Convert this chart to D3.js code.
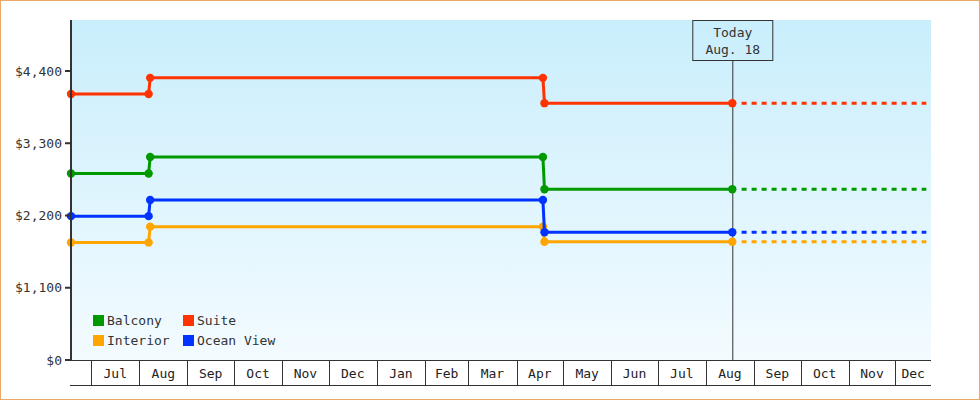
<!DOCTYPE html>
<html><head><meta charset="utf-8">
<script src="https://cdn.jsdelivr.net/npm/d3@7"></script>
<style>
html,body{margin:0;padding:0;background:#fff;}
svg{display:block;font-family:"DejaVu Sans Mono",monospace;}
</style></head>
<body>
<svg id="c" width="980" height="400"></svg>
<script>
// ---- data ----
const seriesNames = ["Balcony", "Suite", "Interior", "Ocean View"];
const seriesColors = ["#009900", "#ff3300", "#ffa500", "#0033ff"];
const pointDates = ["2018-06-18", "2018-08-07", "2018-08-08", "2019-04-18", "2019-04-19", "2019-08-18"];
const balcony  = [2840, 2840, 3090, 3090, 2600, 2600];
const suite    = [4050, 4050, 4295, 4295, 3910, 3910];
const interior = [1790, 1790, 2030, 2030, 1800, 1800];
const oceanView= [2190, 2190, 2435, 2435, 1945, 1945];
const yTicks = [0, 1100, 2200, 3300, 4400];
const yMax = 5176;
const domainStart = "2018-06-18", domainEnd = "2019-12-24";
const todayDate = "2019-08-18", todayLabel = ["Today", "Aug. 18"];
const projStart = "2019-08-24", projEnd = "2019-12-21";

const drawOrder = [0, 1, 2, 3];
const seriesValues = [balcony, suite, interior, oceanView];

const parse = d3.timeParse("%Y-%m-%d");
const svg = d3.select("#c");
const L = 71, R = 931, T = 20, B = 360;

const x = d3.scaleTime().domain([parse(domainStart), parse(domainEnd)]).range([L, R]);
const y = d3.scaleLinear().domain([0, yMax]).range([B, T]);

// frame
svg.append("rect").attr("x", 0.5).attr("y", 0.5).attr("width", 979).attr("height", 399)
  .attr("fill", "#fff").attr("stroke", "#e8aa66");

const defs = svg.append("defs");
const g = defs.append("linearGradient").attr("id", "bg").attr("x1", 0).attr("y1", 0).attr("x2", 0).attr("y2", 1);
g.append("stop").attr("offset", "0%").attr("stop-color", "#c9eefc");
g.append("stop").attr("offset", "100%").attr("stop-color", "#f3fbff");
svg.append("rect").attr("x", L).attr("y", T).attr("width", R - L).attr("height", B - T).attr("fill", "url(#bg)");

// today line + box
const tx = x(parse(todayDate));
svg.append("line").attr("x1", tx + 0.5).attr("x2", tx + 0.5).attr("y1", 60).attr("y2", B)
  .attr("stroke", "#333").attr("stroke-width", 1);
svg.append("rect").attr("x", tx - 39.5).attr("y", T + 0.5).attr("width", 80).attr("height", 40)
  .attr("fill", "none").attr("stroke", "#333");
svg.append("text").attr("x", tx + 0.5).attr("y", 37).attr("text-anchor", "middle")
  .attr("font-size", 13).attr("fill", "#333").text(todayLabel[0]);
svg.append("text").attr("x", tx + 0.5).attr("y", 54).attr("text-anchor", "middle")
  .attr("font-size", 13).attr("fill", "#333").text(todayLabel[1]);

// series
const dates = pointDates.map(parse);
const line = d3.line().x(d => x(d[0])).y(d => y(d[1]));
drawOrder.forEach(i => {
  const vals = seriesValues[i];
  const pts = dates.map((d, k) => [d, vals[k]]);
  const last = vals[vals.length - 1];
  svg.append("path").attr("d", line([[parse(projStart), last], [parse(projEnd), last]]))
    .attr("fill", "none").attr("stroke", seriesColors[i]).attr("stroke-width", 3)
    .attr("stroke-dasharray", "5,5");
  svg.append("path").attr("d", line(pts)).attr("fill", "none")
    .attr("stroke", seriesColors[i]).attr("stroke-width", 3).attr("stroke-linejoin", "round");
  svg.selectAll(null).data(pts).enter().append("circle")
    .attr("cx", d => x(d[0])).attr("cy", d => y(d[1])).attr("r", 4.2)
    .attr("fill", seriesColors[i]);
});

// y axis
svg.append("line").attr("x1", L).attr("x2", L).attr("y1", T).attr("y2", B + 1)
  .attr("stroke", "#333").attr("stroke-width", 2);
yTicks.forEach(v => {
  svg.append("line").attr("x1", L - 6).attr("x2", L).attr("y1", y(v)).attr("y2", y(v))
    .attr("stroke", "#333").attr("stroke-width", 2);
  svg.append("text").attr("x", 62).attr("y", y(v)).attr("dy", "0.35em")
    .attr("text-anchor", "end").attr("font-size", 13).attr("fill", "#333")
    .text("$" + d3.format(",")(v));
});

// x axis band
svg.append("line").attr("x1", L).attr("x2", R).attr("y1", B + 0.5).attr("y2", B + 0.5).attr("stroke", "#333");
svg.append("line").attr("x1", L - 1).attr("x2", R).attr("y1", 385.5).attr("y2", 385.5).attr("stroke", "#333");
const months = d3.timeMonth.range(d3.timeMonth.ceil(x.domain()[0]), x.domain()[1]);
const fmt = d3.timeFormat("%b");
months.forEach(m => {
  const mx = Math.round(x(m)) + 0.5;
  svg.append("line").attr("x1", mx).attr("x2", mx).attr("y1", B).attr("y2", 385).attr("stroke", "#333");
});
const bounds = [x.domain()[0], ...months, x.domain()[1]];
for (let k = 0; k < bounds.length - 1; k++) {
  const a = x(bounds[k]), b = x(bounds[k + 1]);
  if (b - a < 30) continue;
  svg.append("text").attr("x", (a + b) / 2).attr("y", 378).attr("text-anchor", "middle")
    .attr("font-size", 13).attr("fill", "#222").text(fmt(bounds[k]));
}

// legend
const legendPos = [[93, 315], [183, 315], [93, 335], [183, 335]];
seriesNames.forEach((name, i) => {
  const [lx, ly] = legendPos[i];
  svg.append("rect").attr("x", lx).attr("y", ly).attr("width", 11).attr("height", 11).attr("fill", seriesColors[i]);
  svg.append("text").attr("x", lx + 14).attr("y", ly + 10).attr("font-size", 13).attr("fill", "#333").text(name);
});
</script>
</body></html>
